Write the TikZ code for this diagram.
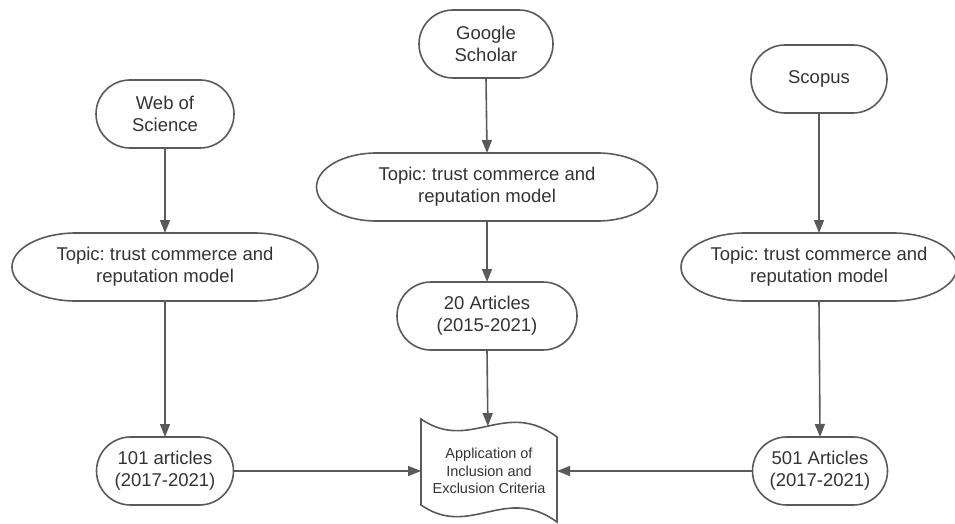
\documentclass[tikz,border=0pt]{standalone}
\usepackage{fontspec}
\setmainfont{Liberation Sans}
\usetikzlibrary{shapes.misc, arrows.meta}
\frenchspacing

\definecolor{linegray}{HTML}{5A5A5A}
\definecolor{textgray}{HTML}{333333}

\tikzset{
  dbbox/.style={rounded rectangle, draw=linegray, line width=1.6pt, text=textgray,
    align=center, inner sep=0pt, outer sep=0pt, minimum height=68pt,
    font=\fontsize{18.5}{22}\selectfont},
  topicbox/.style={rectangle, text=textgray, align=center, inner sep=0pt, outer sep=0pt,
    minimum height=68pt, font=\fontsize{18.5}{22}\selectfont},
  flow/.style={draw=linegray, line width=1.6pt, -{Triangle[length=13pt, width=10pt]}},
}

% outline of a topic box: straight top and bottom, half-ellipse ends
\newcommand{\topicshape}[2]{%
  \draw[linegray, line width=1.6pt] ([xshift=#2]#1.north west) -- ([xshift=-#2]#1.north east)
    arc[start angle=90, end angle=-90, x radius=#2, y radius=34pt]
    -- ([xshift=#2]#1.south west)
    arc[start angle=270, end angle=90, x radius=#2, y radius=34pt] -- cycle;}

\begin{document}
\begin{tikzpicture}[x=1pt, y=1pt]
  \useasboundingbox (0,0) rectangle (955,523);

  % ===== Bases de datos =====
  \node[dbbox, minimum width=138pt] (wos) at (165,409) {Web of\\Science};
  \node[dbbox, minimum width=134pt] (gs) at (486,479) {Google\\Scholar};
  \node[dbbox, minimum width=136pt] (scopus) at (819,444) {Scopus};

  % ===== Temas =====
  \node[topicbox, minimum width=306pt] (topic1) at (165,256) {Topic: trust commerce and\\reputation model};
  \node[topicbox, minimum width=341pt] (topic2) at (487,336) {Topic: trust commerce and\\reputation model};
  \node[topicbox, minimum width=276pt] (topic3) at (819,256) {Topic: trust commerce and\\reputation model};
  \topicshape{topic1}{64pt}
  \topicshape{topic2}{60pt}
  \topicshape{topic3}{64pt}

  % ===== Resultados =====
  \node[dbbox, minimum width=137pt] (a101) at (165,52) {101 articles\\(2017-2021)};
  \node[dbbox, minimum width=180pt] (twenty) at (487,207) {20 Articles\\(2015-2021)};
  \node[dbbox, minimum width=135pt] (a501) at (820,52) {501 Articles\\(2017-2021)};

  % ===== Criterios =====
  \node[text=textgray, align=center, inner sep=0pt, outer sep=0pt, minimum width=136pt,
    font=\fontsize{14.5}{17.5}\selectfont] (criteria) at (489,52)
    {Application of\\Inclusion and\\Exclusion Criteria};
  \draw[linegray, line width=1.6pt] (421,104) .. controls (470,70) and (505,125) ..
    coordinate[pos=0.5] (critin) (557,86) -- (557,1)
    .. controls (505,39) and (470,-16) .. (421,18) -- cycle;

  % ===== Flechas =====
  \draw[flow] (wos.south) -- (topic1.north);
  \draw[flow] (topic1.south) -- (a101.north);
  \draw[flow] (gs.south) -- (topic2.north);
  \draw[flow] (topic2.south) -- (twenty.north);
  \draw[flow] (twenty.south) -- (critin);
  \draw[flow] (scopus.south) -- (topic3.north);
  \draw[flow] (topic3.south) -- (a501.north);
  \draw[flow] (a101.east) -- (criteria.west);
  \draw[flow] (a501.west) -- (criteria.east);
\end{tikzpicture}
\end{document}
